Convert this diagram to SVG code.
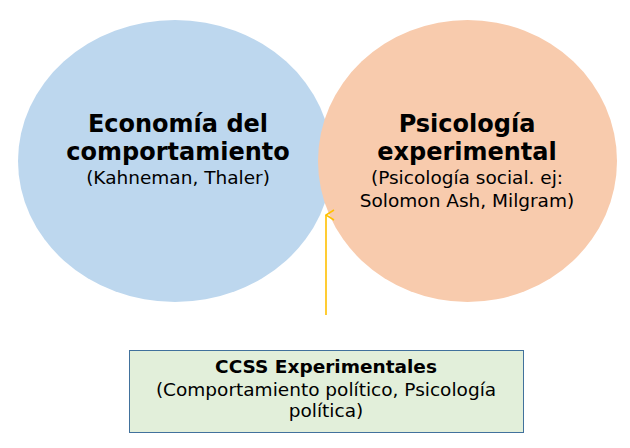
<svg xmlns="http://www.w3.org/2000/svg" width="630" height="448" viewBox="0 0 630 448">
<defs>
<style>
.t{font-family:"DejaVu Sans","Liberation Sans",sans-serif;text-anchor:middle;fill:#000}
.b{font-weight:bold;font-size:24px}
.s{font-size:18.5px}
.bb{font-weight:bold;font-size:18.5px}
</style>
<marker id="ah" markerWidth="14" markerHeight="12" refX="6" refY="1" orient="auto" markerUnits="userSpaceOnUse">
<path d="M1,9 L6,1 L11,9" fill="none" stroke="#FFC000" stroke-width="1.5"/>
</marker>
</defs>
<rect width="630" height="448" fill="#fff"/>
<g id="economia">
<ellipse cx="175" cy="161" rx="157" ry="141" fill="#BDD7EE"/>
<text class="t b" x="178" y="132">Economía del</text>
<text class="t b" x="178" y="160">comportamiento</text>
<text class="t s" x="178" y="184">(Kahneman, Thaler)</text>
</g>
<g id="psicologia">
<ellipse cx="467.5" cy="161" rx="149.5" ry="141" fill="#F8CBAD"/>
<text class="t b" x="467" y="132">Psicología</text>
<text class="t b" x="467" y="160">experimental</text>
<text class="t s" x="467" y="184">(Psicología social. ej:</text>
<text class="t s" x="467" y="207">Solomon Ash, Milgram)</text>
</g>
<g id="ccss">
<rect x="129.5" y="350.5" width="394" height="82" fill="#E2EFDA" stroke="#41719C" stroke-width="1"/>
<text class="t bb" x="326" y="373">CCSS Experimentales</text>
<text class="t s" x="326" y="396">(Comportamiento político, Psicología</text>
<text class="t s" x="326" y="417">política)</text>
</g>
<g id="connectors">
<line x1="326" y1="315" x2="326" y2="215" stroke="#FFC000" stroke-width="1.6" marker-end="url(#ah)"/>
</g>
</svg>
